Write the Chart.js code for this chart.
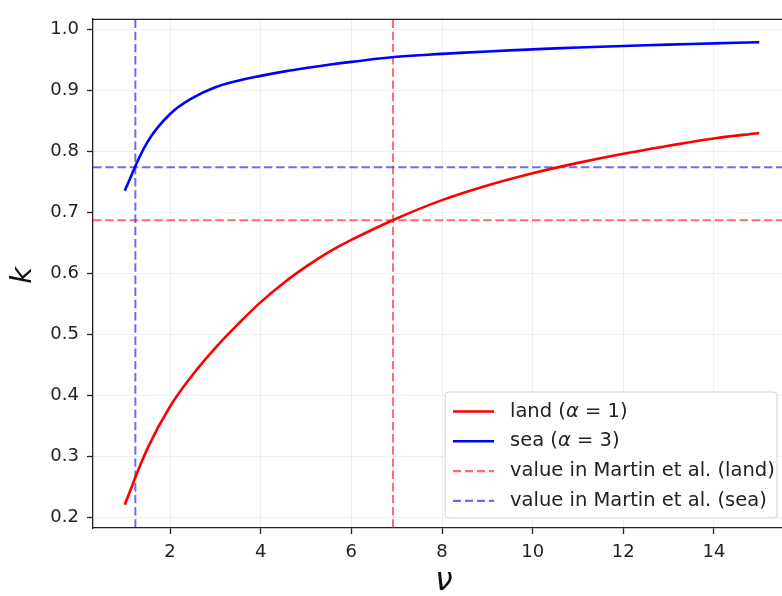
<!DOCTYPE html>
<html>
<head>
<meta charset="utf-8">
<script src="https://cdn.jsdelivr.net/npm/chart.js@4.4.1/dist/chart.umd.min.js"></script>
<style>
    html, body { margin: 0; padding: 0; background: #fff; overflow: hidden; }
    #wrap { position: absolute; left: 0; top: 0; width: 800px; height: 596px; }
</style>
</head>
<body>
<div id="wrap"><canvas id="chart" width="800" height="596"></canvas></div>
<script>
// nu values and k
const nu = [1, 1.5, 2, 2.5, 3, 3.5, 4, 4.5, 5, 5.5, 6, 7, 8, 9, 10, 11, 12, 13, 14, 15];
const landK = [0.221, 0.313, 0.382, 0.434, 0.478, 0.517, 0.553, 0.584, 0.611, 0.635, 0.655, 0.690, 0.720, 0.744, 0.764, 0.781, 0.796, 0.809, 0.821, 0.830];
const seaK = [0.7355, 0.815, 0.861, 0.8875, 0.905, 0.9155, 0.9235, 0.9305, 0.9365, 0.9418, 0.9465, 0.9548, 0.9595, 0.9635, 0.967, 0.970, 0.9725, 0.9747, 0.9768, 0.9787];

// reference values (Martin et al.)
const landRef = { nu: 6.92, k: 0.687 };
const seaRef = { nu: 1.234, k: 0.774 };

const xRange = [0.3, 15.7];
const yRange = [0.183, 1.017];
const xTicks = [2, 4, 6, 8, 10, 12, 14];
const yTicks = [0.2, 0.3, 0.4, 0.5, 0.6, 0.7, 0.8, 0.9, 1.0];

const legendLabels = [
    [['land (', false], ['α', true], [' = 1)', false]],
    [['sea (', false], ['α', true], [' = 3)', false]],
    [['value in Martin et al. (land)', false]],
    [['value in Martin et al. (sea)', false]],
];

const RED = '#ff0000';
const BLUE = '#0000ff';
const RED_DASH = 'rgba(255,0,0,0.58)';
const BLUE_DASH = 'rgba(0,0,255,0.58)';
const DASH = [8.5, 3.7];

const toPts = (xs, ys) => xs.map((x, i) => ({ x: x, y: ys[i] }));

const lineDs = (data, color, dash, width) => ({
    data: data,
    borderColor: color,
    borderWidth: width,
    borderDash: dash,
    pointRadius: 0,
    fill: false,
    tension: 0.4,
});

const datasets = [
    lineDs(toPts(nu, landK), RED, [], 2.6),
    lineDs(toPts(nu, seaK), BLUE, [], 2.6),
    lineDs([{ x: xRange[0], y: landRef.k }, { x: xRange[1], y: landRef.k }], RED_DASH, DASH, 2),
    lineDs([{ x: landRef.nu, y: yRange[0] }, { x: landRef.nu, y: yRange[1] }], RED_DASH, DASH, 2),
    lineDs([{ x: xRange[0], y: seaRef.k }, { x: xRange[1], y: seaRef.k }], BLUE_DASH, DASH, 2),
    lineDs([{ x: seaRef.nu, y: yRange[0] }, { x: seaRef.nu, y: yRange[1] }], BLUE_DASH, DASH, 2),
];

const legendStyles = [
    { color: RED, dash: [] },
    { color: BLUE, dash: [] },
    { color: RED_DASH, dash: [8, 4] },
    { color: BLUE_DASH, dash: [8, 4] },
];

const decorPlugin = {
    id: 'decor',
    afterDraw(chart) {
        const ctx = chart.ctx;
        const a = chart.chartArea;
        ctx.save();

        // top spine
        ctx.strokeStyle = '#222';
        ctx.lineWidth = 1.3;
        ctx.beginPath();
        ctx.moveTo(a.left, a.top + 0.5);
        ctx.lineTo(a.right, a.top + 0.5);
        ctx.stroke();

        // axis titles
        ctx.fillStyle = '#111';
        ctx.textAlign = 'center';
        ctx.textBaseline = 'middle';
        ctx.font = 'italic 31px "DejaVu Sans"';
        ctx.fillText('ν', (a.left + a.right) / 2 + 2, 582);
        ctx.save();
        ctx.translate(23, (a.top + a.bottom) / 2 + 2);
        ctx.rotate(-Math.PI / 2);
        ctx.font = 'italic 29px "DejaVu Sans"';
        ctx.fillText('k', 0, 0);
        ctx.restore();

        // legend box
        const bx = 445, by = 392, bw = 332, bh = 126, r = 4;
        ctx.beginPath();
        ctx.moveTo(bx + r, by);
        ctx.arcTo(bx + bw, by, bx + bw, by + bh, r);
        ctx.arcTo(bx + bw, by + bh, bx, by + bh, r);
        ctx.arcTo(bx, by + bh, bx, by, r);
        ctx.arcTo(bx, by, bx + bw, by, r);
        ctx.closePath();
        ctx.fillStyle = 'rgba(255,255,255,0.85)';
        ctx.fill();
        ctx.strokeStyle = '#d4d4d4';
        ctx.lineWidth = 1;
        ctx.stroke();

        ctx.textAlign = 'left';
        ctx.textBaseline = 'middle';
        legendLabels.forEach((parts, i) => {
            const y = 411.5 + i * 29.8;
            const st = legendStyles[i];
            ctx.strokeStyle = st.color;
            ctx.lineWidth = 2.4;
            ctx.setLineDash(st.dash);
            ctx.beginPath();
            ctx.moveTo(453, y);
            ctx.lineTo(494, y);
            ctx.stroke();
            ctx.setLineDash([]);

            let x = 510;
            ctx.fillStyle = '#222';
            parts.forEach(([txt, it]) => {
                ctx.font = (it ? 'italic ' : '') + '19.5px "DejaVu Sans"';
                ctx.fillText(txt, x, y);
                x += ctx.measureText(txt).width;
            });
        });

        ctx.restore();
    },
};

const tickFont = { family: 'DejaVu Sans', size: 18 };
const gridStyle = {
    color: 'rgba(0,0,0,0.06)',
    tickColor: '#222',
    tickLength: 6,
    tickWidth: 1.3,
};

new Chart(document.getElementById('chart').getContext('2d'), {
    type: 'line',
    data: { datasets: datasets },
    options: {
        responsive: false,
        animation: false,
        layout: { padding: { top: 7, right: 9, left: 0, bottom: 0 } },
        plugins: {
            legend: { display: false },
            tooltip: { enabled: false },
        },
        scales: {
            x: {
                type: 'linear',
                min: xRange[0],
                max: xRange[1],
                afterBuildTicks: (s) => { s.ticks = xTicks.map((v) => ({ value: v })); },
                afterFit: (s) => { s.height = 68; },
                ticks: { font: tickFont, color: '#222', padding: 8, maxRotation: 0, autoSkip: false },
                grid: gridStyle,
                border: { display: true, color: '#222', width: 1.3 },
            },
            y: {
                type: 'linear',
                min: yRange[0],
                max: yRange[1],
                afterBuildTicks: (s) => { s.ticks = yTicks.map((v) => ({ value: v })); },
                afterFit: (s) => { s.width = 93; },
                ticks: {
                    font: tickFont,
                    color: '#222',
                    padding: 8,
                    autoSkip: false,
                    callback: (v) => Number(v).toFixed(1),
                },
                grid: gridStyle,
                border: { display: true, color: '#222', width: 1.3 },
            },
        },
    },
    plugins: [decorPlugin],
});
</script>
</body>
</html>
